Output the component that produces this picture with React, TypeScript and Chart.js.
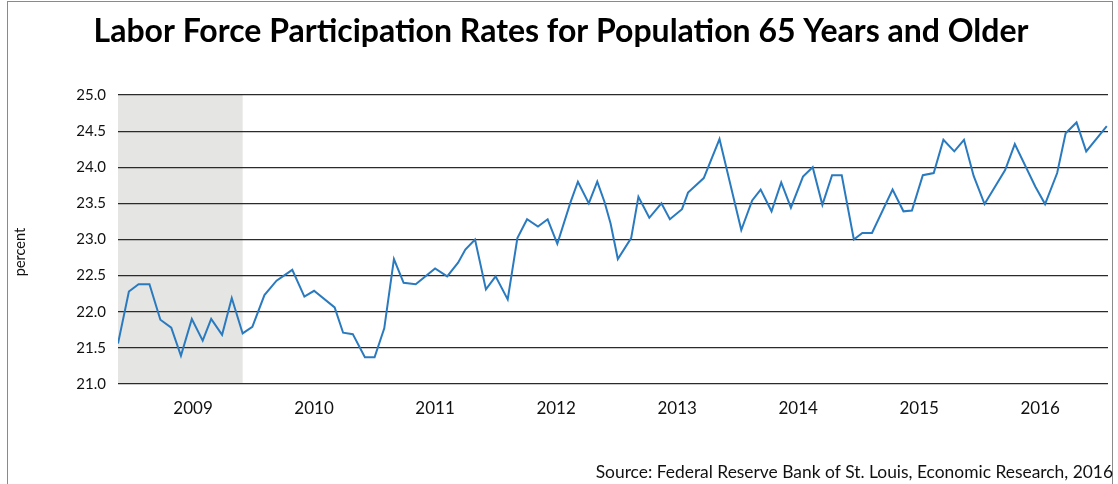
import React, { useEffect, useRef } from "react";
import { Chart, registerables } from "chart.js";

Chart.register(...registerables);

const dates: number[] = [
  2008.38, 2008.47, 2008.55, 2008.64, 2008.73, 2008.82, 2008.9, 2008.99,
  2009.08, 2009.15, 2009.24, 2009.32, 2009.41, 2009.49, 2009.59, 2009.69,
  2009.82, 2009.92, 2010.0, 2010.17, 2010.24, 2010.32, 2010.42, 2010.5,
  2010.58, 2010.66, 2010.74, 2010.84, 2011.0, 2011.1, 2011.19, 2011.25,
  2011.33, 2011.42, 2011.5, 2011.6, 2011.68, 2011.76, 2011.85, 2011.93,
  2012.01, 2012.12, 2012.18, 2012.27, 2012.34, 2012.4, 2012.45, 2012.51,
  2012.62, 2012.68, 2012.77, 2012.87, 2012.94, 2013.04, 2013.09, 2013.22,
  2013.35, 2013.53, 2013.62, 2013.69, 2013.78, 2013.86, 2013.94, 2014.04,
  2014.12, 2014.2, 2014.28, 2014.36, 2014.46, 2014.53, 2014.61, 2014.78,
  2014.87, 2014.94, 2015.03, 2015.12, 2015.2, 2015.29, 2015.37, 2015.45,
  2015.54, 2015.71, 2015.79, 2015.96, 2016.04, 2016.14, 2016.21, 2016.3,
  2016.38, 2016.55,
];

// Labor force participation rate, 65 years and older (percent)
const rates: number[] = [
  21.56, 22.28, 22.38, 22.38, 21.89, 21.78, 21.39, 21.9,
  21.6, 21.9, 21.68, 22.19, 21.7, 21.79, 22.23, 22.43,
  22.58, 22.21, 22.29, 22.06, 21.71, 21.69, 21.37, 21.37,
  21.77, 22.73, 22.4, 22.38, 22.6, 22.49, 22.68, 22.86,
  23.0, 22.31, 22.49, 22.17, 23.02, 23.28, 23.18, 23.28,
  22.94, 23.52, 23.8, 23.5, 23.8, 23.52, 23.22, 22.73,
  23.02, 23.59, 23.3, 23.5, 23.28, 23.42, 23.65, 23.85,
  24.39, 23.13, 23.54, 23.69, 23.39, 23.79, 23.44, 23.87,
  24.0, 23.48, 23.89, 23.89, 23.0, 23.09, 23.09, 23.69,
  23.39, 23.4, 23.89, 23.92, 24.38, 24.22, 24.38, 23.88,
  23.49, 23.96, 24.32, 23.73, 23.49, 23.92, 24.47, 24.62,
  24.22, 24.57,
];

const yearTicks: number[] = [2009, 2010, 2011, 2012, 2013, 2014, 2015, 2016];
const xRange: number[] = [2008.38, 2016.56];
const yRange: number[] = [21, 25];
const yStep = 0.5;
// Recession shading (through June 2009)
const recession: number[] = [2008.38, 2009.41];

const TITLE = "Labor Force Participation Rates for Population 65 Years and Older";
const SOURCE = "Source: Federal Reserve Bank of St. Louis, Economic Research, 2016";
const Y_TITLE = "percent";
const FONT = "Lato, 'Open Sans', sans-serif";

const recessionPlugin = {
  id: "recessionShade",
  beforeDraw(chart: any) {
    const { ctx, chartArea, scales } = chart;
    const x0 = scales.x.getPixelForValue(recession[0]);
    const x1 = scales.x.getPixelForValue(recession[1]);
    ctx.save();
    ctx.fillStyle = "#e5e5e3";
    ctx.fillRect(x0, chartArea.top, x1 - x0, chartArea.bottom - chartArea.top);
    ctx.restore();
  },
};

const textPlugin = {
  id: "extraText",
  afterDraw(chart: any) {
    const { ctx } = chart;
    ctx.save();
    ctx.fillStyle = "#111";
    ctx.font = `17.4px ${FONT}`;
    ctx.textAlign = "right";
    ctx.textBaseline = "alphabetic";
    ctx.fillText(SOURCE, 1113, 478);
    ctx.translate(20, 252);
    ctx.rotate(-Math.PI / 2);
    ctx.font = `14.5px ${FONT}`;
    ctx.textAlign = "center";
    ctx.textBaseline = "middle";
    ctx.fillText(Y_TITLE, 0, 0);
    ctx.restore();
  },
};

export default function App() {
  const ref = useRef<HTMLCanvasElement | null>(null);

  useEffect(() => {
    if (!ref.current) return;
    const chart = new Chart(ref.current, {
      type: "line",
      data: {
        datasets: [
          {
            data: dates.map((d, i) => ({ x: d, y: rates[i] })),
            borderColor: "#2a7abf",
            borderWidth: 2,
            pointRadius: 0,
            tension: 0,
            fill: false,
          },
        ],
      },
      options: {
        animation: false,
        responsive: false,
        layout: { padding: { left: 14, right: 10, top: 0, bottom: 0 } },
        plugins: {
          legend: { display: false },
          tooltip: { enabled: false },
          title: {
            display: true,
            text: TITLE,
            color: "#000",
            font: { family: FONT, size: 32, weight: "bold" },
            padding: { top: 12.8, bottom: 43.8 },
          },
        },
        scales: {
          x: {
            type: "linear",
            min: xRange[0],
            max: xRange[1],
            afterBuildTicks: (scale: any) => {
              scale.ticks = yearTicks.map((v) => ({ value: v }));
            },
            afterFit: (scale: any) => {
              scale.height = 100;
            },
            grid: { display: false, drawTicks: false },
            border: { display: false },
            ticks: {
              autoSkip: false,
              maxRotation: 0,
              padding: 14,
              color: "#111",
              font: { family: FONT, size: 17 },
              callback: (v: any) => String(v),
            },
          },
          y: {
            min: yRange[0],
            max: yRange[1],
            afterFit: (scale: any) => {
              scale.width = 104;
            },
            grid: { color: "#2b2b2b", lineWidth: 1.2, drawTicks: false },
            border: { display: false },
            ticks: {
              stepSize: yStep,
              padding: 12,
              color: "#111",
              font: { family: FONT, size: 15 },
              callback: (v: any) => Number(v).toFixed(1),
            },
          },
        },
      },
      plugins: [recessionPlugin, textPlugin],
    });
    return () => chart.destroy();
  }, []);

  return (
    <div>
      <div
        style={{
          position: "fixed",
          left: 7,
          top: 1,
          width: 1106,
          height: 600,
          border: "1px solid #8a8a8a",
          boxSizing: "border-box",
        }}
      />
      <canvas
        ref={ref}
        width={1118}
        height={484}
        style={{ position: "fixed", left: 0, top: 0, display: "block" }}
      />
    </div>
  );
}
